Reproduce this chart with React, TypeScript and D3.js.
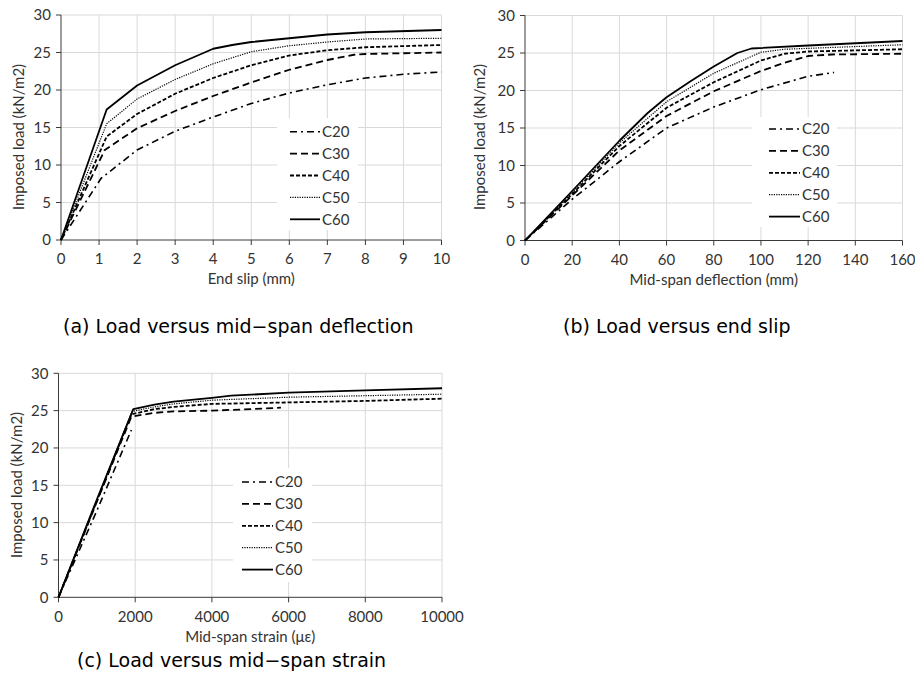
import React from 'react';
import * as d3 from 'd3';

// series names and legend order
const grades = ['C20', 'C30', 'C40', 'C50', 'C60'];

// (a) end slip (mm) vs imposed load (kN/m2)
const slipC20 = [[0, 0], [1.05, 8.2], [2, 12.0], [3, 14.5], [4, 16.4], [5, 18.2], [6, 19.6], [7, 20.7], [8, 21.6], [9, 22.1], [10, 22.4]];
const slipC30 = [[0, 0], [1.15, 12.0], [2, 14.9], [3, 17.2], [4, 19.2], [5, 21.0], [6, 22.7], [7, 24.0], [7.7, 24.7], [8, 24.8], [10, 25.0]];
const slipC40 = [[0, 0], [1.2, 13.8], [2, 16.8], [3, 19.5], [4, 21.6], [5, 23.3], [6, 24.6], [7, 25.3], [8, 25.7], [10, 26.0]];
const slipC50 = [[0, 0], [1.2, 15.5], [2, 18.8], [3, 21.4], [4, 23.5], [5, 25.1], [6, 25.9], [7, 26.4], [8, 26.8], [10, 26.9]];
const slipC60 = [[0, 0], [1.2, 17.4], [2, 20.6], [3, 23.3], [4, 25.5], [4.5, 26.0], [5, 26.4], [6, 26.9], [7, 27.4], [8, 27.7], [10, 28.0]];

// (b) mid-span deflection (mm) vs imposed load
const deflC20 = [[0, 0], [20, 5.5], [40, 10.5], [60, 15.0], [80, 17.8], [100, 20.1], [120, 21.9], [131, 22.4]];
const deflC30 = [[0, 0], [20, 6.0], [40, 12.0], [60, 16.6], [80, 19.9], [100, 22.6], [110, 23.7], [120, 24.6], [130, 24.8], [160, 24.9]];
const deflC40 = [[0, 0], [20, 6.2], [40, 12.6], [60, 17.7], [80, 21.1], [100, 24.0], [110, 24.9], [120, 25.2], [160, 25.5]];
const deflC50 = [[0, 0], [20, 6.4], [40, 13.0], [60, 18.5], [80, 22.3], [100, 25.1], [110, 25.5], [160, 26.1]];
const deflC60 = [[0, 0], [20, 6.6], [40, 13.3], [52, 17.0], [60, 19.1], [70, 21.2], [80, 23.2], [90, 25.0], [96, 25.6], [120, 26.0], [160, 26.6]];

// (c) mid-span strain (microstrain) vs imposed load
const strainC20 = [[0, 0], [1000, 11.6], [1500, 17.6], [1900, 22.4]];
const strainC30 = [[0, 0], [1000, 12.8], [1900, 24.2], [2500, 24.7], [3000, 24.9], [4000, 25.0], [5000, 25.2], [5800, 25.4]];
const strainC40 = [[0, 0], [1000, 12.9], [1900, 24.5], [2500, 25.2], [3000, 25.5], [4000, 25.9], [6000, 26.1], [8000, 26.3], [10000, 26.6]];
const strainC50 = [[0, 0], [1000, 13.0], [1920, 24.9], [2500, 25.5], [3000, 25.9], [4000, 26.4], [6000, 26.8], [8000, 27.0], [10000, 27.2]];
const strainC60 = [[0, 0], [1000, 13.1], [1950, 25.2], [2500, 25.8], [3000, 26.2], [4000, 26.7], [4500, 27.0], [6000, 27.4], [8000, 27.7], [10000, 28.0]];

// tick values
const loadTicks = [0, 5, 10, 15, 20, 25, 30];
const slipTicks = [0, 1, 2, 3, 4, 5, 6, 7, 8, 9, 10];
const deflTicks = [0, 20, 40, 60, 80, 100, 120, 140, 160];
const strainTicks = [0, 2000, 4000, 6000, 8000, 10000];

// line style per grade
const styles = [
  { dash: '7,4,2,4', w: 1.6 },
  { dash: '7,4', w: 1.8 },
  { dash: '4,2', w: 1.8 },
  { dash: '1.2,1.2', w: 1.2 },
  { dash: null, w: 1.8 },
];

const FONT = 'Lato, "Open Sans", sans-serif';
const FS = 15;

type PanelProps = {
  series: number[][][];
  xTicks: number[];
  xTitle: string;
  box: { l: number; r: number; t: number; b: number };
  legend: { x0: number; x1: number; y0: number; bx: number; by: number; bw: number; bh: number };
  yTitleX: number;
  yTitleY: number;
};

function Panel({ series, xTicks, xTitle, box, legend, yTitleX, yTitleY }: PanelProps) {
  const x = d3.scaleLinear().domain([xTicks[0], xTicks[xTicks.length - 1]]).range([box.l, box.r]);
  const y = d3.scaleLinear().domain([0, 30]).range([box.b, box.t]);
  const line = d3.line<number[]>().x(d => x(d[0])).y(d => y(d[1]));
  const step = 21.9;

  return (
    <g>
      {/* gridlines */}
      {loadTicks.slice(1).map(t => (
        <line key={'gy' + t} x1={box.l} x2={box.r} y1={y(t)} y2={y(t)} stroke="#d9d9d9" strokeWidth={1} />
      ))}
      {xTicks.slice(1).map(t => (
        <line key={'gx' + t} x1={x(t)} x2={x(t)} y1={box.t} y2={box.b} stroke="#d9d9d9" strokeWidth={1} />
      ))}
      {/* legend background hides grid */}
      <rect x={legend.bx} y={legend.by} width={legend.bw} height={legend.bh} fill="#fff" />
      {/* axes */}
      <line x1={box.l} x2={box.l} y1={box.t} y2={box.b} stroke="#3a3a3a" strokeWidth={1} />
      <line x1={box.l} x2={box.r} y1={box.b} y2={box.b} stroke="#3a3a3a" strokeWidth={1} />
      {loadTicks.map(t => (
        <g key={'ty' + t}>
          <line x1={box.l - 5} x2={box.l} y1={y(t)} y2={y(t)} stroke="#3a3a3a" />
          <text x={box.l - 10} y={y(t)} dy="0.35em" textAnchor="end" fontSize={FS} fill="#333" fontFamily={FONT}>{t}</text>
        </g>
      ))}
      {xTicks.map(t => (
        <g key={'tx' + t}>
          <line x1={x(t)} x2={x(t)} y1={box.b} y2={box.b + 5} stroke="#3a3a3a" />
          <text x={x(t)} y={box.b + 19} dy="0.35em" textAnchor="middle" fontSize={FS} fill="#333" fontFamily={FONT}>{t}</text>
        </g>
      ))}
      <text x={(box.l + box.r) / 2} y={box.b + 39} dy="0.35em" textAnchor="middle" fontSize={FS} fill="#333" fontFamily={FONT}>{xTitle}</text>
      <text transform={`translate(${yTitleX},${yTitleY}) rotate(-90)`} dy="0.35em" textAnchor="middle" fontSize={FS} fill="#333" fontFamily={FONT}>Imposed load (kN/m2)</text>
      {/* curves */}
      {series.map((s, i) => (
        <path key={'s' + i} d={line(s) || ''} fill="none" stroke="#000" strokeWidth={styles[i].w}
          strokeDasharray={styles[i].dash || undefined} strokeLinejoin="round" />
      ))}
      {/* legend */}
      {grades.map((g, i) => (
        <g key={'lg' + g}>
          <line x1={legend.x0} x2={legend.x1} y1={legend.y0 + i * step} y2={legend.y0 + i * step}
            stroke="#000" strokeWidth={styles[i].w} strokeDasharray={styles[i].dash || undefined} />
          <text x={legend.x1 + 2} y={legend.y0 + i * step} dy="0.35em" fontSize={FS} fill="#333" fontFamily={FONT}>{g}</text>
        </g>
      ))}
    </g>
  );
}

export default function App() {
  const capFont = '"DejaVu Sans", sans-serif';
  return (
    <svg width={915} height={676} style={{ position: 'absolute', left: 0, top: 0, background: '#fff' }}>
      <Panel
        series={[slipC20, slipC30, slipC40, slipC50, slipC60]}
        xTicks={slipTicks}
        xTitle="End slip (mm)"
        box={{ l: 61, r: 441.5, t: 15, b: 240 }}
        legend={{ x0: 290, x1: 320, y0: 131.7, bx: 277, by: 118, bw: 81, bh: 112 }}
        yTitleX={19}
        yTitleY={137}
      />
      <Panel
        series={[deflC20, deflC30, deflC40, deflC50, deflC60]}
        xTicks={deflTicks}
        xTitle="Mid-span deflection (mm)"
        box={{ l: 525, r: 902.5, t: 15.5, b: 240.5 }}
        legend={{ x0: 769, x1: 800, y0: 129, bx: 752, by: 117, bw: 85, bh: 110 }}
        yTitleX={480}
        yTitleY={137}
      />
      <Panel
        series={[strainC20, strainC30, strainC40, strainC50, strainC60]}
        xTicks={strainTicks}
        xTitle="Mid-span strain (με)"
        box={{ l: 58.5, r: 442, t: 373.3, b: 597.3 }}
        legend={{ x0: 242, x1: 273, y0: 482, bx: 233, by: 468, bw: 79, bh: 114 }}
        yTitleX={17}
        yTitleY={485}
      />
      <text x={63} y={333} fontSize={19} fontFamily={capFont} fill="#000">(a) Load versus mid−span deflection</text>
      <text x={563} y={333} fontSize={19} fontFamily={capFont} fill="#000">(b) Load versus end slip</text>
      <text x={77} y={667} fontSize={19} fontFamily={capFont} fill="#000">(c) Load versus mid−span strain</text>
    </svg>
  );
}
